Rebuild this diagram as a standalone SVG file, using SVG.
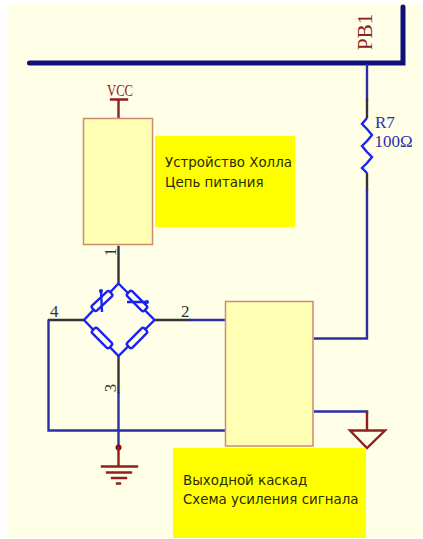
<svg xmlns="http://www.w3.org/2000/svg" width="423" height="539" viewBox="0 0 423 539">
<style>
.w{fill:none;stroke-width:2.400;stroke-linecap:square}
.b{stroke:#2a2fa8}.k{stroke:#333}.m{stroke:#8e2020}.r{fill:none;stroke:#1a22f0;stroke-width:2.400}
.box{fill:#ffffb4;stroke:#cc8a70;stroke-width:1.500}
.note{fill:#ff0}
.ru{font-family:"DejaVu Sans",sans-serif;font-size:13.400px;fill:#2a2a00}
.s{font-family:"Liberation Serif",serif}
.n{font-family:"Liberation Serif",serif;font-size:17px;fill:#333}
</style>
<rect x="7" y="4" width="414" height="534" fill="#ffffe8"/>
<g id="connectors">
<path d="M29.500 63H403V7" fill="none" stroke="#10107a" stroke-width="5" stroke-linecap="round" stroke-linejoin="miter"/>
<path class="w b" d="M367 65V99"/><path class="w k" d="M367 100V117"/>
<path class="r" d="M367 118L362 124L367 129 372 135 367 141 362 146 367 152 372 157 367 163 362 168 367 173"/>
<path class="w k" d="M367 174V189"/><path class="w b" d="M367 190V338.500H315"/>
<path class="w b" d="M315 411.500H367"/>
<path class="w k" d="M118.500 247V282"/>
<path class="w k" d="M49 320H83"/><path class="w b" d="M48.500 321V430.500H225"/>
<path class="w k" d="M156 320H190"/><path class="w b" d="M191 320H225"/>
<path class="w k" d="M118.500 357V392"/><path class="w b" d="M118.500 393V446"/>
</g>
<g id="bus-label"><text class="s" transform="translate(372 50) rotate(-90)" font-size="21" fill="#8e2020">PB1</text></g>
<g id="r7"><text class="s" x="375" y="128" font-size="17" fill="#2a2fa8">R7</text><text class="s" x="374.500" y="147" font-size="17" fill="#2a2fa8">100Ω</text></g>
<g id="vcc"><path class="w m" d="M111 99.500H127M118.500 100V117"/><text class="s" x="120" y="96" font-size="16" text-anchor="middle" fill="#8e2020" textLength="26" lengthAdjust="spacingAndGlyphs">VCC</text></g>
<g id="hall-power"><rect class="box" x="83.500" y="118.500" width="69" height="126"/></g>
<g id="hall-note"><rect class="note" x="155" y="136" width="140" height="91"/><text class="ru" x="165" y="167">Устройство Холла</text><text class="ru" x="165" y="187">Цепь питания</text></g>
<g id="bridge">
<path class="r" d="M118.500 283.500L154.500 320 118.500 356 84 320Z"/>
<g class="r"><rect x="-12" y="-3.500" width="24" height="7" rx="2" transform="translate(102 301) rotate(-43)" fill="#ffffe8"/><rect x="-12" y="-3.500" width="24" height="7" rx="2" transform="translate(137 301) rotate(45)" fill="#ffffe8"/><rect x="-12" y="-3.500" width="24" height="7" rx="2" transform="translate(102 338) rotate(45)" fill="#ffffe8"/><rect x="-12" y="-3.500" width="24" height="7" rx="2" transform="translate(137 338) rotate(-45)" fill="#ffffe8"/></g>
<path class="r" d="M101 291L102 312M127 302H147"/>
<circle cx="101" cy="291" r="2" fill="#1a22f0"/><circle cx="147" cy="302" r="2" fill="#1a22f0"/>
<text class="n" x="50" y="317">4</text><text class="n" x="181" y="317">2</text>
<text class="n" text-anchor="middle" transform="translate(116 252) rotate(-90)">1</text><text class="n" text-anchor="middle" transform="translate(116 388) rotate(-90)">3</text>
</g>
<g id="gnd-left"><circle cx="118.500" cy="447.500" r="3" fill="#8e0a0a"/><path class="w m" d="M118.500 448V466M102 466.500H137M107 472.500H131M112 478H126M117 483.500H120"/></g>
<g id="gnd-right"><path class="w m" d="M367 412V430"/><path class="r" style="stroke:#8e2020" d="M350 430.500H385L367 448Z"/></g>
<g id="output-stage"><rect class="box" x="225.500" y="301.500" width="87.500" height="144.500"/></g>
<g id="output-note"><rect class="note" x="173" y="448" width="193" height="90"/><text class="ru" x="183" y="485">Выходной каскад</text><text class="ru" x="183" y="504">Схема усиления сигнала</text></g>
</svg>
